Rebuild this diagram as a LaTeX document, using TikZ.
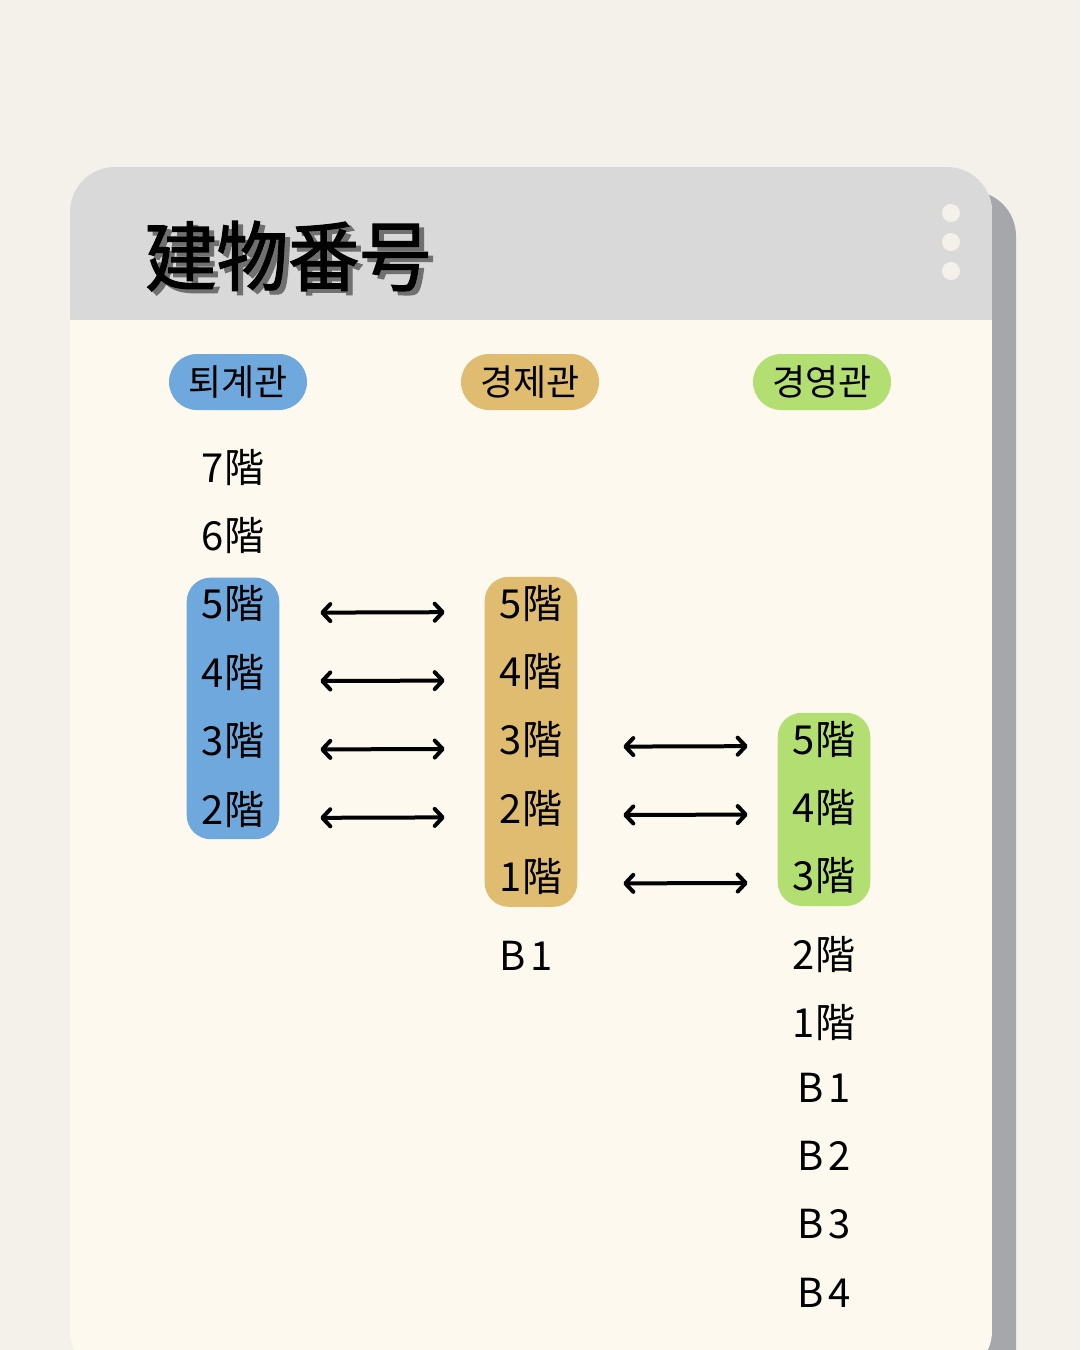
\documentclass[tikz,border=0pt]{standalone}
\usepackage{fontspec}
\newfontfamily\jpfont{Noto Sans CJK JP}
\newfontfamily\krfont{Noto Sans CJK KR}
\newfontfamily\titlefont{Noto Sans CJK JP}[FakeBold=1.6, FakeStretch=0.94]
\usetikzlibrary{positioning,fit,backgrounds,arrows.meta}
\definecolor{pagebg}{HTML}{F3F1EA}
\definecolor{cardbg}{HTML}{FDF9EE}
\definecolor{headergrey}{HTML}{D9D9D9}
\definecolor{shadowgrey}{HTML}{A6A7AB}
\definecolor{titleshade}{HTML}{707070}
\definecolor{toegyeblue}{HTML}{6FA8DC}
\definecolor{kyeongjegold}{HTML}{E0BC70}
\definecolor{kyeongyeonggreen}{HTML}{B3DF72}
\tikzset{
    floor/.style={inner sep=0pt, text height=30pt, text depth=4pt, font=\jpfont\fontsize{40}{48}\selectfont},
    pill/.style={rounded corners=28pt, minimum width=138pt, minimum height=56pt, inner sep=0pt, font=\krfont\fontsize{36}{42}\selectfont},
    floorbox/.style={rounded corners=24pt, inner xsep=15pt, inner ysep=11pt},
    biarrow/.style={{Straight Barb[length=8pt,width=17pt,round]}-{Straight Barb[length=8pt,width=17pt,round]}, line width=4pt, line cap=round},
    titletext/.style={anchor=west, inner sep=0pt, font=\titlefont\fontsize{76}{80}\selectfont},
}
\begin{document}
\begin{tikzpicture}[x=1pt,y=-1pt,node distance=34pt]
\useasboundingbox (0,0) rectangle (1080,1350);
% card, header and shadow
\begin{scope}[on background layer]
  \fill[pagebg] (0,0) rectangle (1080,1350);
  \fill[shadowgrey, rounded corners=45pt] (94,191) rectangle (1016,1400);
  \begin{scope}
    \clip[rounded corners=45pt] (70,167) rectangle (992,1376);
    \fill[cardbg] (70,167) rectangle (992,1376);
    \fill[headergrey] (70,167) rectangle (992,320);
  \end{scope}
  \foreach \y in {213,242,271}
    \fill[pagebg] (951,\y) circle (9pt);
\end{scope}
\node[titletext, text=titleshade] (titleshadow) at (150,260) {建物番号};
\node[titletext] (title) at (145,256) {建物番号};
% building names
\node[pill, fill=toegyeblue] (toegye) at (238,382) {퇴계관};
\node[pill, fill=kyeongjegold] (kyeongje) at (530,382) {경제관};
\node[pill, fill=kyeongyeonggreen] (kyeongyeong) at (822,382) {경영관};
% floors
\node[floor] (t7) at (233,469) {7階};
\foreach \n [remember=\n as \p (initially 7)] in {6,5,4,3,2}
  \node[floor, below=of t\p] (t\n) {{\n}階};
\node[floor] (k5) at (531,605) {5階};
\foreach \n [remember=\n as \p (initially 5)] in {4,3,2,1}
  \node[floor, below=of k\p] (k\n) {{\n}階};
\node[floor, below=44pt of k1, xshift=-5pt] (kb1) {B\kern4pt1};
\node[floor] (y5) at (824,741) {5階};
\foreach \n [remember=\n as \p (initially 5)] in {4,3}
  \node[floor, below=of y\p] (y\n) {{\n}階};
\node[floor, below=44pt of y3] (y2) {2階};
\node[floor, below=of y2] (y1) {1階};
\node[floor, below=30pt of y1] (yb1) {B\kern4pt1};
\foreach \n [remember=\n as \p (initially 1)] in {2,3,4}
  \node[floor, below=of yb\p] (yb\n) {B\kern4pt\n};
% highlighted floors
\begin{scope}[on background layer]
  \node[floorbox, fill=toegyeblue, fit=(t5)(t2)] (toegyebox) {};
  \node[floorbox, fill=kyeongjegold, fit=(k5)(k1)] (kyeongjebox) {};
  \node[floorbox, fill=kyeongyeonggreen, fit=(y5)(y3)] (kyeongyeongbox) {};
\end{scope}
% connections
\foreach \n in {5,4,3,2}
  \draw[biarrow, shorten <=56pt, shorten >=55pt] ([yshift=-7pt]t\n.east) -- ([yshift=-7pt]k\n.west);
\foreach \a/\b in {3/5,2/4,1/3}
  \draw[biarrow, shorten <=61pt, shorten >=45pt] ([yshift=-5pt]k\a.east) -- ([yshift=-5pt]y\b.west);
\end{tikzpicture}
\end{document}
